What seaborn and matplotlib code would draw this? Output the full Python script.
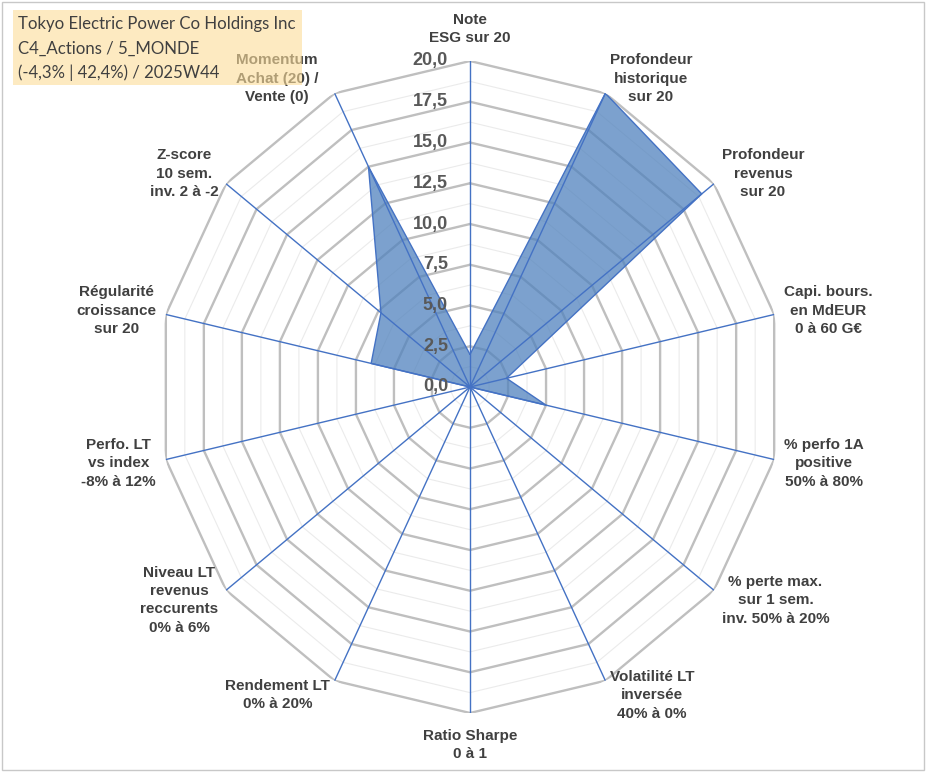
import numpy as np
import matplotlib
matplotlib.use('Agg')
import matplotlib.pyplot as plt
from matplotlib.patches import Rectangle
import seaborn as sns

# Données
criteres = ["Note\nESG sur 20",
            "Profondeur\nhistorique\nsur 20",
            "Profondeur\nrevenus\nsur 20",
            "Capi. bours.\nen MdEUR\n0 à 60 G€",
            "% perfo 1A\npositive\n50% à 80%",
            "% perte max.\nsur 1 sem.\ninv. 50% à 20%",
            "Volatilité LT\ninversée\n40% à 0%",
            "Ratio Sharpe\n0 à 1",
            "Rendement LT\n0% à 20%",
            "Niveau LT\nrevenus\nreccurents\n0% à 6%",
            "Perfo. LT\nvs index\n-8% à 12%",
            "Régularité\ncroissance\nsur 20",
            "Z-score\n10 sem.\ninv. 2 à -2",
            "Momentum\nAchat (20) /\nVente (0)"]
notes = [2.0, 20.0, 19.0, 2.4, 5.0, 0.0, 0.0, 0.0, 0.0, 0.0, 0.0, 6.5, 7.3, 15.0]
graduations = [0.0, 2.5, 5.0, 7.5, 10.0, 12.5, 15.0, 17.5, 20.0]
sous_graduations = [1.25, 3.75, 6.25, 8.75, 11.25, 13.75, 16.25, 18.75]
titre = ["Tokyo Electric Power Co Holdings Inc",
         "C4_Actions / 5_MONDE",
         "(-4,3% | 42,4%) / 2025W44"]

sns.set_theme(style='white')
plt.rcParams['font.family'] = ['Liberation Sans', 'DejaVu Sans']

W, H = 933, 776
fig = plt.figure(figsize=(W / 100, H / 100), dpi=100)
fig.patch.set_facecolor('white')

# axe polaire légèrement écrasé horizontalement comme l'original
cx, cy, rx, ry = 470, 387, 312, 326
ax = fig.add_axes([(cx - rx) / W, (H - cy - ry) / H, 2 * rx / W, 2 * ry / H],
                  projection='polar')
ax.set_aspect('auto')
ax.set_theta_zero_location('N')
ax.set_theta_direction(-1)
ax.set_ylim(0, 20)
ax.grid(False)
ax.set_xticks([])
ax.set_yticks([])
ax.spines['polar'].set_visible(False)
ax.set_facecolor('none')

n = len(criteres)
angles = np.arange(n) * 2 * np.pi / n
ang_ferme = np.append(angles, angles[0])

# grille polygonale
for v in sous_graduations:
    ax.plot(ang_ferme, [v] * (n + 1), color='#EBEBEB', lw=0.8, zorder=1)
for v in graduations[1:]:
    ax.plot(ang_ferme, [v] * (n + 1), color='#BFBFBF', lw=1.7, zorder=2)

# série
vals = np.append(notes, notes[0])
ax.fill(ang_ferme, vals, color='#4F81BD', alpha=0.74, zorder=3, lw=0)
sns.lineplot(x=ang_ferme, y=vals, sort=False, estimator=None, ax=ax,
             color='#4472C4', lw=1.0, zorder=4)

# rayons
for a in angles:
    ax.plot([a, a], [0, 20], color='#4472C4', lw=1.0, zorder=5)

# graduations
for v in graduations:
    ax.annotate(f"{v:.1f}".replace('.', ','), xy=(0, v), xytext=(-22, 0),
                textcoords='offset pixels', ha='right', va='center',
                fontsize=13, fontweight='bold', color='#595959', zorder=6)

# libellés des axes
for a, lab in zip(angles, criteres):
    s, c = np.sin(a), np.cos(a)
    if abs(s) < 0.05:
        ha, va = 'center', ('bottom' if c > 0 else 'top')
        off = (0, 16 * np.sign(c))
    else:
        ha, va = ('left' if s > 0 else 'right'), 'center'
        off = (10 * s, 16 * c)
    if s < -0.3 and c > 0.85:
        off = (off[0] - 12, off[1])
    ax.annotate(lab, xy=(a, 20), xytext=off, textcoords='offset pixels',
                ha=ha, va=va, multialignment='center', linespacing=1.4,
                fontsize=11, fontweight='bold', color='#404040')

# encadré titre
fig.patches.append(Rectangle((13 / W, 1 - 85 / H), 289 / W, 75 / H,
                             transform=fig.transFigure, facecolor='#FCDD99',
                             alpha=0.6, edgecolor='none', zorder=5))
for i, ligne in enumerate(titre):
    fig.text(18 / W, 1 - (24 + 24.5 * i) / H, ligne, ha='left', va='center',
             fontsize=12.1, family=['Lato', 'DejaVu Sans'], color='#404040', zorder=6)

# cadre
fig.patches.append(Rectangle((2 / W, 1 - 770 / H), 922 / W, 768 / H,
                             transform=fig.transFigure, facecolor='none',
                             edgecolor='#C8C8C8', lw=1.0, zorder=0))

fig.savefig('out.png', dpi=100)
